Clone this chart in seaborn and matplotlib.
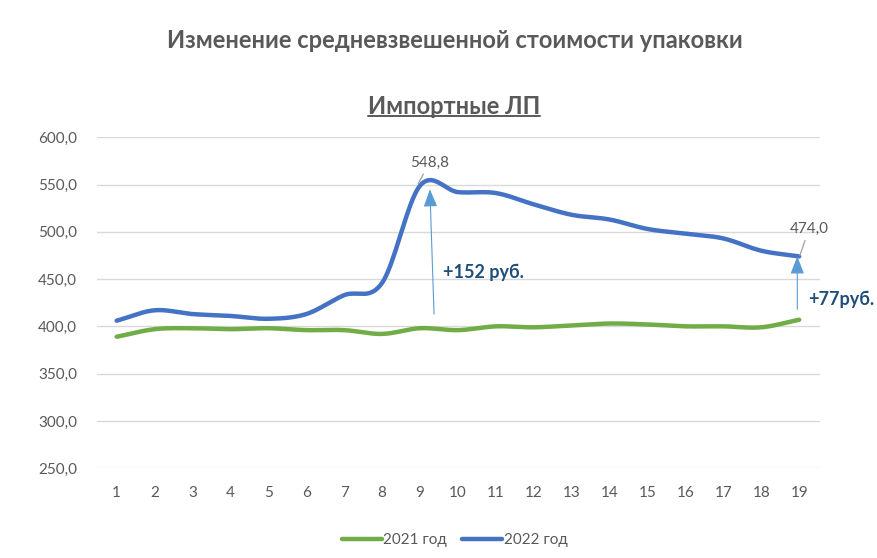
import numpy as np
import pandas as pd
import matplotlib
matplotlib.use("Agg")
import matplotlib.pyplot as plt
import seaborn as sns

months = list(range(1, 20))
y2021 = [389, 397, 398, 397, 398, 396, 396, 392, 398, 396, 400, 399, 401, 403, 402, 400, 400, 399, 407]
y2022 = [406, 417, 413, 411, 408, 413, 433, 446, 548.8, 542, 541, 529, 518, 513, 503, 498, 493, 480, 474.0]
series_names = ["2021 год", "2022 год"]
yticks = [250, 300, 350, 400, 450, 500, 550, 600]

title = "Изменение средневзвешенной стоимости упаковки"
subtitle = "Импортные ЛП"
diff_peak = "+152 руб."
diff_end = "+77руб."


def smooth(x, y, n=20):
    # Catmull-Rom style smoothing similar to Excel's smoothed lines
    x = np.asarray(x, float)
    y = np.asarray(y, float)
    px = np.concatenate([[2 * x[0] - x[1]], x, [2 * x[-1] - x[-2]]])
    py = np.concatenate([[2 * y[0] - y[1]], y, [2 * y[-1] - y[-2]]])
    xs, ys = [], []
    t = np.linspace(0, 1, n, endpoint=False)
    for i in range(1, len(px) - 2):
        p0, p1, p2, p3 = py[i - 1], py[i], py[i + 1], py[i + 2]
        q0, q1, q2, q3 = px[i - 1], px[i], px[i + 1], px[i + 2]
        tt = t
        ys.append(0.5 * ((2 * p1) + (-p0 + p2) * tt + (2 * p0 - 5 * p1 + 4 * p2 - p3) * tt ** 2 + (-p0 + 3 * p1 - 3 * p2 + p3) * tt ** 3))
        xs.append(0.5 * ((2 * q1) + (-q0 + q2) * tt + (2 * q0 - 5 * q1 + 4 * q2 - q3) * tt ** 2 + (-q0 + 3 * q1 - 3 * q2 + q3) * tt ** 3))
    xs.append([x[-1]])
    ys.append([y[-1]])
    return np.concatenate(xs), np.concatenate(ys)


sns.set_theme(style="white")
plt.rcParams['font.family'] = ['Lato', 'DejaVu Sans']

frames = []
for name, vals in zip(series_names, [y2021, y2022]):
    sx, sy = smooth(months, vals)
    frames.append(pd.DataFrame({"x": sx, "y": sy, "series": name}))
df = pd.concat(frames, ignore_index=True)

fig = plt.figure(figsize=(8.78, 5.58), dpi=100)
ax = fig.add_axes([0.110, 0.161, 0.824, 0.593])

palette = {"2021 год": "#70AD47", "2022 год": "#4472C4"}
sns.lineplot(data=df, x="x", y="y", hue="series", palette=palette, linewidth=3.2,
             ax=ax, sort=False, estimator=None, legend=True, solid_capstyle="round")

ax.set_xlim(0.47, 19.55)
ax.set_ylim(250, 600)
ax.set_yticks(yticks)
ax.set_yticklabels([f"{v:.1f}".replace(".", ",") for v in yticks])
ax.set_xticks(months)
ax.set_xticklabels([str(m) for m in months])
ax.grid(axis="y", color="#D9D9D9", linewidth=1)
ax.set_axisbelow(True)
for s in ax.spines.values():
    s.set_visible(False)
ax.tick_params(axis="y", length=0, labelsize=11, colors="#595959", pad=14)
ax.tick_params(axis="x", length=0, labelsize=11, colors="#595959", pad=13)
ax.set_xlabel("")
ax.set_ylabel("")

# data labels
peak_i = 8
ax.annotate(f"{y2022[peak_i]:.1f}".replace(".", ","), xy=(months[peak_i] - 0.05, y2022[peak_i] + 2),
            xytext=(8.74, 573), fontsize=11, color="#595959",
            ha="left", va="center",
            arrowprops=dict(arrowstyle="-", color="#A6A6A6", lw=1, shrinkA=1, shrinkB=0))
ax.annotate(f"{y2022[-1]:.1f}".replace(".", ","), xy=(months[-1] + 0.02, y2022[-1] + 1),
            xytext=(18.74, 503), fontsize=11, color="#595959",
            ha="left", va="center",
            arrowprops=dict(arrowstyle="-", color="#A6A6A6", lw=1, shrinkA=1, shrinkB=0))

# difference arrows
arrow_col = "#5B9BD5"
ax.annotate("", xy=(9.26, 545), xytext=(9.37, 413),
            arrowprops=dict(arrowstyle="-|>,head_width=0.35,head_length=0.9", color=arrow_col, lw=0.8,
                            shrinkA=0, shrinkB=0))
ax.annotate("", xy=(18.95, 474), xytext=(18.95, 418),
            arrowprops=dict(arrowstyle="-|>,head_width=0.35,head_length=0.9", color=arrow_col, lw=0.8,
                            shrinkA=0, shrinkB=0))
ax.text(9.6, 457, diff_peak, fontsize=13, fontweight="bold", color="#1F4E79", ha="left", va="center")
ax.text(19.24, 428.5, diff_end, fontsize=13, fontweight="bold", color="#1F4E79", ha="left", va="center",
        clip_on=False)

# legend
handles, labels = ax.get_legend_handles_labels()
leg = ax.legend(handles, labels, loc="upper center", bbox_to_anchor=(0.495, -0.155), ncol=2,
                frameon=False, fontsize=11, handlelength=2.6, columnspacing=1.0, handletextpad=0.1)
for t in leg.get_texts():
    t.set_color("#595959")
for h in leg.get_lines():
    h.set_linewidth(3.2)

fig.text(0.518, 0.928, title, ha="center", va="center", fontsize=17, fontweight="bold", color="#595959")
sub = fig.text(0.517, 0.810, subtitle, ha="center", va="center", fontsize=17, fontweight="bold",
               color="#595959")
# underline subtitle
fig.canvas.draw()
bb = sub.get_window_extent()
inv = fig.transFigure.inverted()
(x0, y0), (x1, y1) = inv.transform([[bb.x0, bb.y0], [bb.x1, bb.y1]])
fig.add_artist(plt.Line2D([x0, x1], [y0 + 0.003, y0 + 0.003], color="#595959", lw=1.4, transform=fig.transFigure))

fig.savefig("out.png", dpi=100)
